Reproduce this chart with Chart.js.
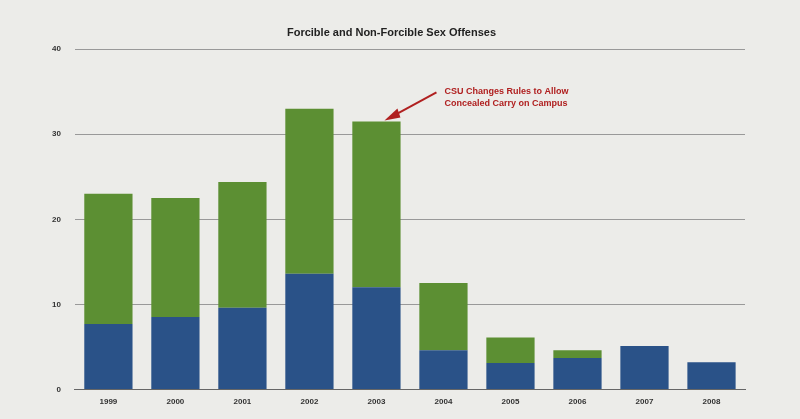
<!DOCTYPE html>
<html><head><script src="https://cdn.jsdelivr.net/npm/chart.js@4"></script>
<style>html,body{margin:0;background:#ecece9;}#w{width:800px;height:419px;}</style></head>
<body><div id="w"><canvas id="c"></canvas></div>
<script>
const categories=['1999','2000','2001','2002','2003','2004','2005','2006','2007','2008'];
const forcible=[7.7,8.5,9.6,13.6,12.0,4.6,3.1,3.7,5.1,3.2];
const nonForcible=[15.3,14.0,14.8,19.4,19.5,7.9,3.0,0.9,0,0];
const yTicks=[0,10,20,30,40];
const annot={
  id:'annot',
  afterDraw(ch){
    const c=ch.ctx,x=ch.scales.x,y=ch.scales.y;
    const px=x.getPixelForValue(4)+8,py=y.getPixelForValue(forcible[4]+nonForcible[4])-1;
    c.save();c.strokeStyle='#b02020';c.fillStyle='#b02020';c.lineWidth=2;
    c.beginPath();c.moveTo(px+52,py-28);c.lineTo(px+6,py-3);c.stroke();
    c.beginPath();c.moveTo(px,py);c.lineTo(px+13,py-12);c.lineTo(px+16,py-3);c.closePath();c.fill();
    c.font='bold 9px "Liberation Sans", Arial';c.textAlign='left';
    c.fillText('CSU Changes Rules to Allow',px+60,py-26);
    c.fillText('Concealed Carry on Campus',px+60,py-14);
    c.restore();
  }
};
new Chart(document.getElementById('c'),{
  type:'bar',
  data:{labels:categories,datasets:[
    {label:'Forcible',data:forcible,backgroundColor:'#2a5288',barPercentage:0.72,categoryPercentage:1},
    {label:'Non-Forcible',data:nonForcible,backgroundColor:'#5c8f33',barPercentage:0.72,categoryPercentage:1}
  ]},
  options:{responsive:true,maintainAspectRatio:false,animation:false,
    layout:{padding:{left:38,right:55,top:14,bottom:12}},
    plugins:{legend:{display:false},tooltip:{enabled:false},
      title:{display:true,text:'Forcible and Non-Forcible Sex Offenses',color:'#222',font:{size:11,weight:'bold',family:'"Liberation Sans", Arial'},padding:{top:12,bottom:10}}},
    scales:{
      x:{stacked:true,grid:{display:false},border:{color:'#666'},ticks:{color:'#333',padding:0,font:{size:8,weight:'bold'}}},
      y:{stacked:true,min:0,max:40,afterBuildTicks(s){s.ticks=yTicks.map(v=>({value:v}));},
        grid:{color:'#999',drawTicks:false},border:{display:false},
        ticks:{color:'#333',padding:14,font:{size:8,weight:'bold'}}}
    }
  },
  plugins:[annot]
});
</script></body></html>
